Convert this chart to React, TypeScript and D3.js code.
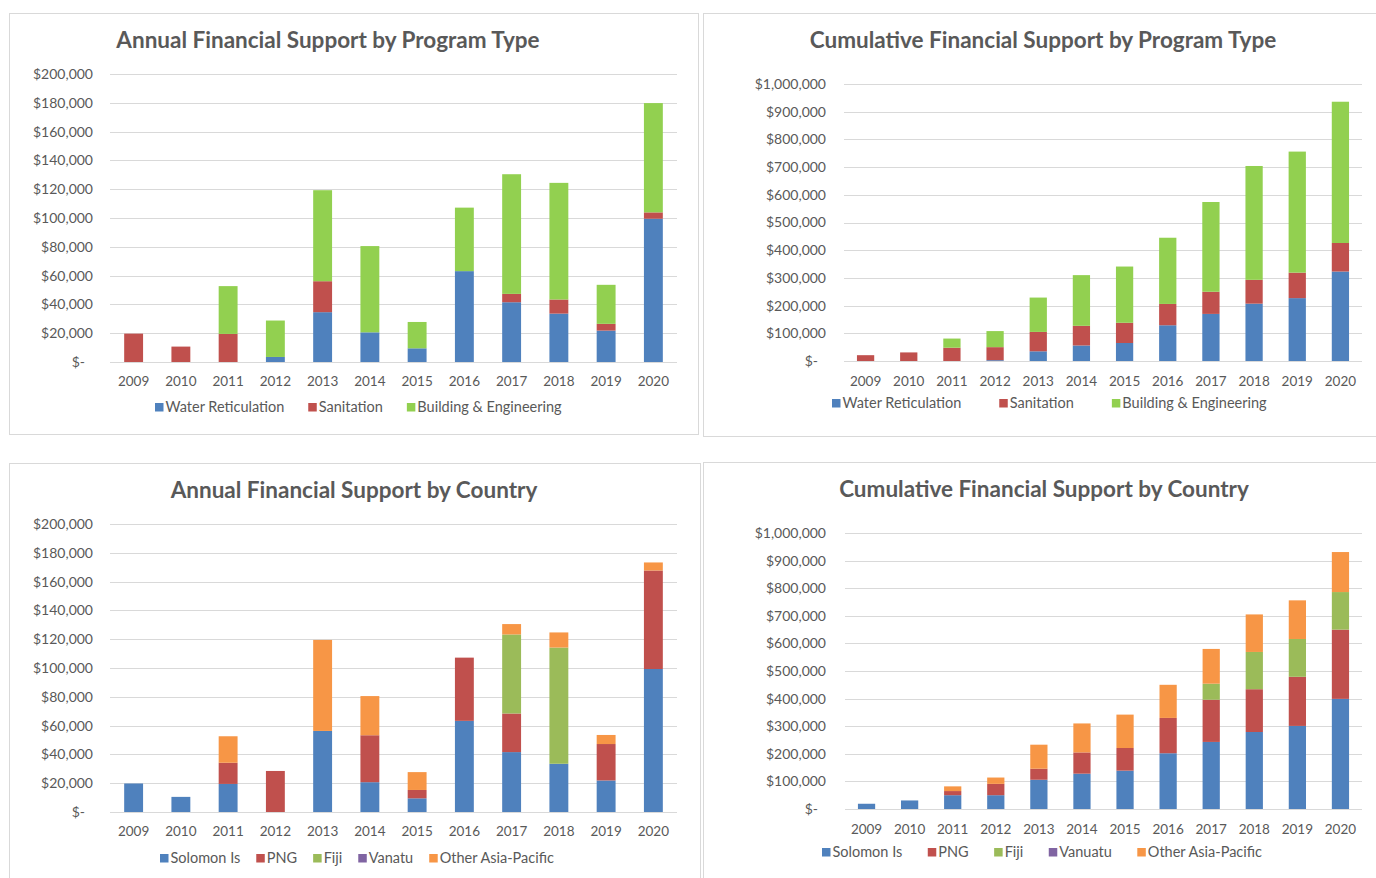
import { useEffect, useRef } from 'react';
import * as d3 from 'd3';

const years = ['2009', '2010', '2011', '2012', '2013', '2014', '2015', '2016', '2017', '2018', '2019', '2020'];

// annual, by program type (thousands of $)
const annualWater = [0, 0, 0, 3.5, 34.6, 20.6, 9.5, 63.1, 41.5, 33.6, 21.8, 99.5];
const annualSanitation = [19.7, 10.7, 19.5, 0, 21.5, 0, 0, 0, 5.8, 9.8, 4.7, 4.4];
const annualBuilding = [0, 0, 33.2, 25.3, 63.2, 59.9, 18.3, 44.1, 83.1, 81, 27.1, 75.9];

// cumulative, by program type (thousands of $)
const cumWater = [0, 0, 0, 3, 35, 56, 65, 129, 170, 207, 227, 323];
const cumSanitation = [21, 31, 48, 47, 70, 71, 73, 77, 80, 86, 92, 103];
const cumBuilding = [0, 0, 33, 58, 124, 183, 203, 239, 324, 411, 437, 510];

// annual, by country (thousands of $)
const annualSolomon = [19.8, 10.5, 19.5, 0, 56.3, 20.7, 9.5, 63.3, 41.6, 33.5, 21.9, 99.3];
const annualPng = [0, 0, 14.7, 28.5, 0, 32.6, 5.8, 43.9, 26.8, 0, 25.3, 68.4];
const annualFiji = [0, 0, 0, 0, 0, 0, 0, 0, 54.9, 80.7, 0, 0];
const annualVanuatu = [0, 0, 0, 0, 0, 0, 0, 0, 0, 0, 0, 0];
const annualOther = [0, 0, 18.4, 0, 63.2, 27.2, 12.4, 0, 7.2, 10.5, 6.3, 5.6];

// cumulative, by country (thousands of $)
const cumSolomon = [19, 31, 50, 50, 106, 128, 139, 202, 243, 279, 301, 399];
const cumPng = [0, 0, 15, 41, 40, 77, 82, 128, 153, 155, 178, 251];
const cumFiji = [0, 0, 0, 0, 0, 0, 0, 0, 58, 135, 137, 136];
const cumVanuatu = [0, 0, 0, 0, 0, 0, 0, 0, 0, 0, 0, 0];
const cumOther = [0, 0, 17, 23, 87, 105, 121, 120, 126, 136, 140, 145];

const BLUE = '#4F81BD';
const RED = '#C0504D';
const BRIGHT_GREEN = '#92D050';
const OLIVE = '#9BBB59';
const PURPLE = '#8064A2';
const ORANGE = '#F79646';

const FONT = 'Lato, "Open Sans", sans-serif';
const TEXT = '#595959';
const GRID = '#D9D9D9';

type Series = { name: string; color: string; values: number[] };

type Panel = {
	title: string;
	box: [number, number, number, number];
	titleX: number;
	titleY: number;
	left: number;
	right: number;
	top: number;
	bottom: number;
	yMax: number;
	tickStep: number;
	labelX: number;
	xLabelY: number;
	legendY: number;
	legendX: number;
	legendGap: number;
	series: Series[];
};

const programSeries = (w: number[], s: number[], b: number[]): Series[] => [
	{ name: 'Water Reticulation', color: BLUE, values: w },
	{ name: 'Sanitation', color: RED, values: s },
	{ name: 'Building & Engineering', color: BRIGHT_GREEN, values: b },
];

const panels: Panel[] = [
	{
		title: 'Annual Financial Support by Program Type',
		box: [9, 13, 698, 434],
		titleX: 328, titleY: 40,
		left: 110, right: 677, top: 74, bottom: 362,
		yMax: 200, tickStep: 20, labelX: 93,
		xLabelY: 381, legendY: 407, legendX: 155, legendGap: 24,
		series: programSeries(annualWater, annualSanitation, annualBuilding),
	},
	{
		title: 'Cumulative Financial Support by Program Type',
		box: [703, 13, 1380, 436],
		titleX: 1043, titleY: 40,
		left: 844, right: 1362, top: 84, bottom: 361,
		yMax: 1000, tickStep: 100, labelX: 826,
		xLabelY: 381, legendY: 403, legendX: 832, legendGap: 38,
		series: programSeries(cumWater, cumSanitation, cumBuilding),
	},
	{
		title: 'Annual Financial Support by Country',
		box: [9, 463, 700, 882],
		titleX: 354, titleY: 490,
		left: 110, right: 677, top: 524, bottom: 812,
		yMax: 200, tickStep: 20, labelX: 93,
		xLabelY: 831, legendY: 858, legendX: 160, legendGap: 16,
		series: [
			{ name: 'Solomon Is', color: BLUE, values: annualSolomon },
			{ name: 'PNG', color: RED, values: annualPng },
			{ name: 'Fiji', color: OLIVE, values: annualFiji },
			{ name: 'Vanatu', color: PURPLE, values: annualVanuatu },
			{ name: 'Other Asia-Pacific', color: ORANGE, values: annualOther },
		],
	},
	{
		title: 'Cumulative Financial Support by Country',
		box: [703, 462, 1380, 882],
		titleX: 1044, titleY: 489,
		left: 845, right: 1362, top: 533, bottom: 809,
		yMax: 1000, tickStep: 100, labelX: 826,
		xLabelY: 829, legendY: 852, legendX: 822, legendGap: 25.5,
		series: [
			{ name: 'Solomon Is', color: BLUE, values: cumSolomon },
			{ name: 'PNG', color: RED, values: cumPng },
			{ name: 'Fiji', color: OLIVE, values: cumFiji },
			{ name: 'Vanuatu', color: PURPLE, values: cumVanuatu },
			{ name: 'Other Asia-Pacific', color: ORANGE, values: cumOther },
		],
	},
];

const money = (v: number) => (v === 0 ? '$-' : '$' + d3.format(',')(v * 1000));

const App = () => {
	const svgRef = useRef<SVGSVGElement>(null);

	useEffect(() => {
		const svg = d3.select(svgRef.current);
		svg.selectAll('*').remove();

		panels.forEach(p => {
			const g = svg.append('g');
			const [bx0, by0, bx1, by1] = p.box;

			g.append('rect')
				.attr('x', bx0 + 0.5)
				.attr('y', by0 + 0.5)
				.attr('width', bx1 - bx0)
				.attr('height', by1 - by0)
				.attr('fill', '#fff')
				.attr('stroke', GRID);

			g.append('text')
				.attr('x', p.titleX)
				.attr('y', p.titleY)
				.attr('dy', '0.35em')
				.attr('text-anchor', 'middle')
				.attr('fill', TEXT)
				.style('font', `bold 22.5px ${FONT}`)
				.text(p.title);

			const x = d3.scaleBand<string>().domain(years).range([p.left, p.right]).paddingInner(0.6).paddingOuter(0.3);
			const y = d3.scaleLinear().domain([0, p.yMax]).range([p.bottom, p.top]);
			const ticks = d3.range(0, p.yMax + p.tickStep / 2, p.tickStep);

			g.append('g')
				.selectAll('line')
				.data(ticks)
				.join('line')
				.attr('x1', p.left)
				.attr('x2', p.right)
				.attr('y1', d => Math.round(y(d)) + 0.5)
				.attr('y2', d => Math.round(y(d)) + 0.5)
				.attr('stroke', GRID)
				.attr('stroke-width', 1);

			g.append('g')
				.selectAll('text')
				.data(ticks)
				.join('text')
				.attr('x', d => (d === 0 ? p.labelX - 8 : p.labelX))
				.attr('y', d => y(d))
				.attr('dy', '0.35em')
				.attr('text-anchor', 'end')
				.attr('fill', TEXT)
				.style('font', `14px ${FONT}`)
				.text(money);

			const stacked = d3
				.stack<number>()
				.keys(p.series.map((_, i) => String(i)))
				.value((i, key) => p.series[+key].values[i])(d3.range(years.length));

			g.append('g')
				.selectAll('g')
				.data(stacked)
				.join('g')
				.attr('fill', (_, i) => p.series[i].color)
				.selectAll('rect')
				.data(d => d)
				.join('rect')
				.attr('x', d => x(years[d.data])!)
				.attr('width', x.bandwidth())
				.attr('y', d => y(d[1]))
				.attr('height', d => Math.max(0, y(d[0]) - y(d[1])));

			g.append('g')
				.selectAll('text')
				.data(years)
				.join('text')
				.attr('x', d => x(d)! + x.bandwidth() / 2)
				.attr('y', p.xLabelY)
				.attr('dy', '0.35em')
				.attr('text-anchor', 'middle')
				.attr('fill', TEXT)
				.style('font', `13.5px ${FONT}`)
				.text(d => d);

			// legend, laid out left to right
			let cx = p.legendX;
			p.series.forEach(s => {
				const item = g.append('g');
				item.append('rect')
					.attr('x', cx)
					.attr('y', p.legendY - 4)
					.attr('width', 8.5)
					.attr('height', 8.5)
					.attr('fill', s.color);
				const t = item
					.append('text')
					.attr('x', cx + 10.5)
					.attr('y', p.legendY)
					.attr('dy', '0.35em')
					.attr('fill', TEXT)
					.style('font', `14.5px ${FONT}`)
					.text(s.name);
				const w = (t.node() as SVGTextElement).getComputedTextLength();
				cx += 10.5 + w + p.legendGap;
			});
		});
	}, []);

	return (
		<svg
			ref={svgRef}
			width={1376}
			height={878}
			style={{ position: 'absolute', left: 0, top: 0, background: '#fff' }}
		/>
	);
};

export default App;
